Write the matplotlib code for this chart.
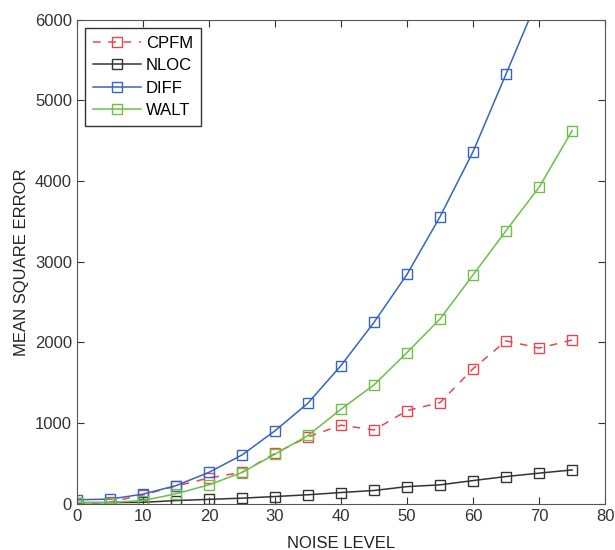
import numpy as np
import matplotlib.pyplot as plt

plt.rcParams['font.family'] = ['Liberation Sans', 'DejaVu Sans']

noise = [0, 5, 10, 15, 20, 25, 30, 35, 40, 45, 50, 55, 60, 65, 70, 75]
cpfm = [0, 20, 110, 220, 320, 390, 625, 830, 975, 915, 1155, 1255, 1675, 2020, 1930, 2030]
nloc = [15, 15, 18, 40, 55, 70, 90, 112, 140, 165, 213, 235, 288, 338, 380, 420]
diff = [50, 58, 120, 225, 390, 605, 905, 1248, 1714, 2250, 2845, 3560, 4366, 5330, 6300, 7400]
walt = [15, 16, 40, 124, 235, 388, 615, 847, 1173, 1474, 1875, 2292, 2838, 3387, 3924, 4626]

fig = plt.figure(figsize=(6.15, 5.5), dpi=100)
ax = fig.add_axes([0.125, 0.084, 0.859, 0.880])

style = dict(marker='s', markersize=7.5, markerfacecolor='none', linewidth=1.1, markeredgewidth=1.0)
ax.plot(noise, cpfm, '--', color='#e8464e', label='CPFM', dashes=(5, 5), **style)
ax.plot(noise, nloc, '-', color='#333333', label='NLOC', **style)
ax.plot(noise, diff, '-', color='#3565c0', label='DIFF', **style)
ax.plot(noise, walt, '-', color='#6cc048', label='WALT', **style)

ax.set_xlim(0, 80)
ax.set_ylim(0, 6000)
ax.set_xticks(range(0, 81, 10))
ax.set_yticks(range(0, 6001, 1000))
ax.tick_params(direction='in', top=True, right=True, labelsize=12, length=5, colors='#333333')
for sp in ax.spines.values():
    sp.set_color('#555555')
ax.set_xlabel('NOISE LEVEL', fontsize=12, color='#222222', labelpad=9)
ax.set_ylabel('MEAN SQUARE ERROR', fontsize=12, color='#222222', labelpad=4)

leg = ax.legend(loc='upper left', fontsize=12, fancybox=False, framealpha=1,
                edgecolor='#333333', handlelength=2.9, borderaxespad=0.5,
                labelspacing=0.45, handletextpad=0.3, borderpad=0.45)
leg.get_frame().set_linewidth(1.0)

fig.savefig('out.png', dpi=100)
